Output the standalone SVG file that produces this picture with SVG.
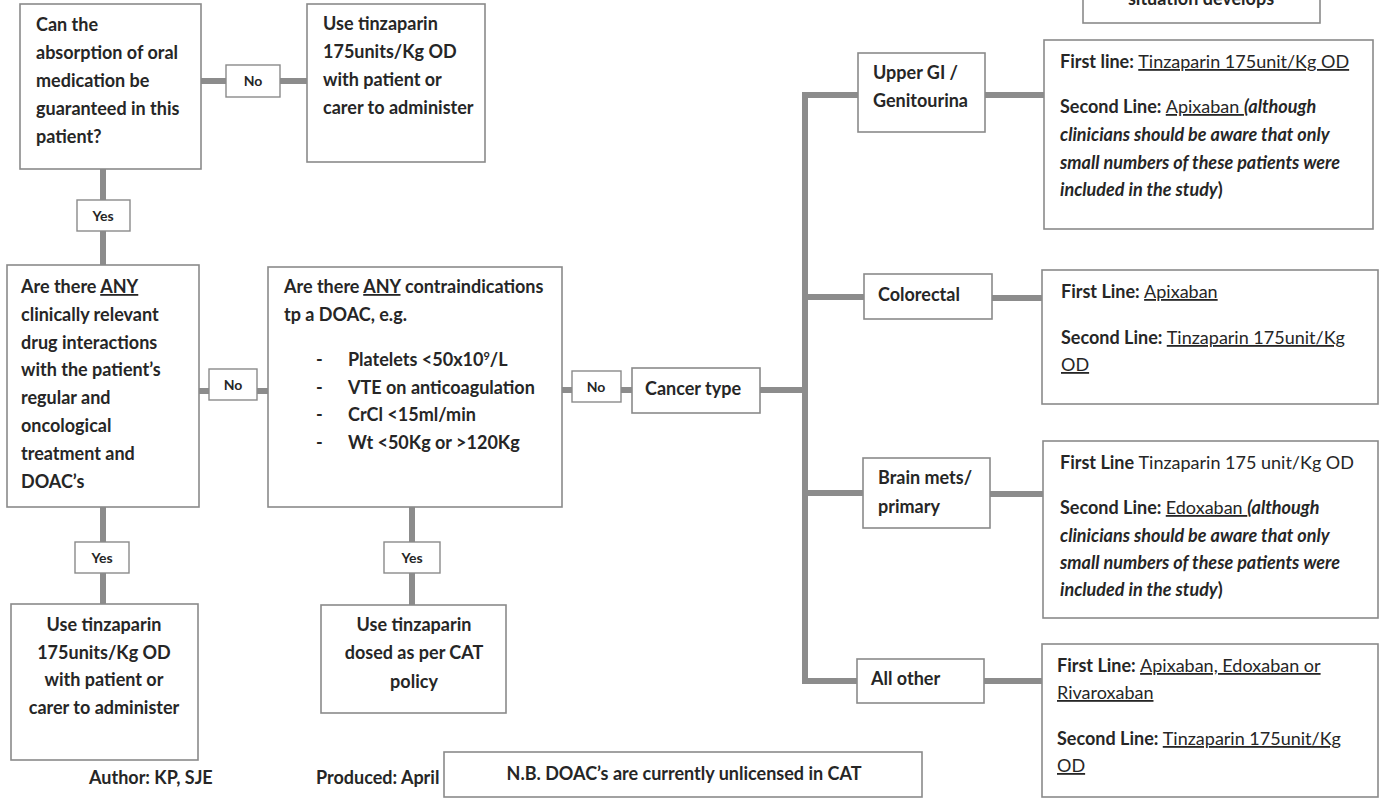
<svg xmlns="http://www.w3.org/2000/svg" width="1382" height="802" viewBox="0 0 1382 802">
<style>
.box{fill:#fff;stroke:#8a8a8a;stroke-width:1.6}
.lbl{fill:#fff;stroke:#8a8a8a;stroke-width:1.4}
.con{stroke:#8c8c8c;stroke-width:6;fill:none;stroke-linecap:butt}
.t{font-family:Lato,"Open Sans",sans-serif;font-size:18px;font-weight:700;fill:#262626}
.s{font-family:Lato,"Open Sans",sans-serif;font-size:14px;font-weight:700;fill:#262626}
.c{text-anchor:middle}
.u{text-decoration:underline;font-weight:400}
.ub{text-decoration:underline}
.i{font-style:italic}
</style>
<rect width="1382" height="802" fill="#fff"/>
<g id="connectors">
<path class="con" d="M201 81H226M280 81H307"/>
<path class="con" d="M103 169V200M103 231V265"/>
<path class="con" d="M199 391H209M257 391H268"/>
<path class="con" d="M103 507V542M103 573V604"/>
<path class="con" d="M412 507V542M412 573V605"/>
<path class="con" d="M562 390H572M621 390H632"/>
<path class="con" d="M760 390H805"/>
<path class="con" d="M805 92V684"/>
<path class="con" d="M802 95H858M802 297H864M802 493H863M802 681H857"/>
<path class="con" d="M985 95H1044M992 298H1042M990 494H1043M984 681H1042"/>
</g>
<g id="note-top">
<rect class="box" x="1083" y="-10" width="237" height="33"/>
<text class="t c" x="1201" y="5">situation develops</text>
</g>
<g id="q-absorption">
<rect class="box" x="20" y="4" width="181" height="165"/>
<text class="t" x="36" y="31">Can the</text>
<text class="t" x="36" y="59">absorption of oral</text>
<text class="t" x="36" y="87">medication be</text>
<text class="t" x="36" y="115">guaranteed in this</text>
<text class="t" x="36" y="143">patient?</text>
</g>
<g id="lbl-no1">
<rect class="lbl" x="226" y="65" width="54" height="32"/>
<text class="s c" x="253" y="86">No</text>
</g>
<g id="use-tinz-top">
<rect class="box" x="307" y="4" width="178" height="158"/>
<text class="t" x="323" y="30">Use tinzaparin</text>
<text class="t" x="323" y="58">175units/Kg OD</text>
<text class="t" x="323" y="86">with patient or</text>
<text class="t" x="323" y="114">carer to administer</text>
</g>
<g id="lbl-yes1">
<rect class="lbl" x="77" y="200" width="53" height="31"/>
<text class="s c" x="103" y="221">Yes</text>
</g>
<g id="q-interactions">
<rect class="box" x="7" y="265" width="192" height="242"/>
<text class="t" x="21" y="293">Are there <tspan class="ub">ANY</tspan></text>
<text class="t" x="21" y="321">clinically relevant</text>
<text class="t" x="21" y="349">drug interactions</text>
<text class="t" x="21" y="376">with the patient’s</text>
<text class="t" x="21" y="404">regular and</text>
<text class="t" x="21" y="432">oncological</text>
<text class="t" x="21" y="460">treatment and</text>
<text class="t" x="21" y="488">DOAC’s</text>
</g>
<g id="lbl-no2">
<rect class="lbl" x="209" y="369" width="48" height="31"/>
<text class="s c" x="233" y="390">No</text>
</g>
<g id="q-contra">
<rect class="box" x="268" y="267" width="294" height="240"/>
<text class="t" x="284" y="293">Are there <tspan class="ub">ANY</tspan> contraindications</text>
<text class="t" x="284" y="321">tp a DOAC, e.g.</text>
<text class="t" x="316" y="366">-</text>
<text class="t" x="348" y="366">Platelets &lt;50x10<tspan font-size="11" baseline-shift="super">9</tspan>/L</text>
<text class="t" x="316" y="394">-</text>
<text class="t" x="348" y="394">VTE on anticoagulation</text>
<text class="t" x="316" y="421">-</text>
<text class="t" x="348" y="421">CrCl &lt;15ml/min</text>
<text class="t" x="316" y="449">-</text>
<text class="t" x="348" y="449">Wt &lt;50Kg or &gt;120Kg</text>
</g>
<g id="lbl-yes3">
<rect class="lbl" x="75" y="542" width="54" height="31"/>
<text class="s c" x="102" y="563">Yes</text>
</g>
<g id="use-tinz-bottom">
<rect class="box" x="11" y="604" width="187" height="156"/>
<text class="t c" x="104" y="631">Use tinzaparin</text>
<text class="t c" x="104" y="659">175units/Kg OD</text>
<text class="t c" x="104" y="686">with patient or</text>
<text class="t c" x="104" y="714">carer to administer</text>
</g>
<g id="lbl-yes4">
<rect class="lbl" x="384" y="542" width="56" height="31"/>
<text class="s c" x="412" y="563">Yes</text>
</g>
<g id="use-tinz-cat">
<rect class="box" x="321" y="605" width="185" height="108"/>
<text class="t c" x="414" y="631">Use tinzaparin</text>
<text class="t c" x="414" y="659">dosed as per CAT</text>
<text class="t c" x="414" y="688">policy</text>
</g>
<g id="lbl-no3">
<rect class="lbl" x="572" y="371" width="49" height="31"/>
<text class="s c" x="596" y="392">No</text>
</g>
<g id="cancer-type">
<rect class="box" x="632" y="368" width="128" height="45"/>
<text class="t" x="645" y="395">Cancer type</text>
</g>
<g id="upper-gi">
<rect class="box" x="858" y="53" width="127" height="79"/>
<text class="t" x="873" y="79">Upper GI /</text>
<text class="t" x="873" y="107">Genitourina</text>
</g>
<g id="colorectal">
<rect class="box" x="864" y="274" width="128" height="45"/>
<text class="t" x="878" y="301">Colorectal</text>
</g>
<g id="brain">
<rect class="box" x="863" y="458" width="127" height="70"/>
<text class="t" x="878" y="484">Brain mets/</text>
<text class="t" x="878" y="513">primary</text>
</g>
<g id="all-other">
<rect class="box" x="857" y="659" width="127" height="44"/>
<text class="t" x="871" y="685">All other</text>
</g>
<g id="tx-upper-gi">
<rect class="box" x="1044" y="40" width="329" height="189"/>
<text class="t" x="1060" y="68">First line: <tspan class="u">Tinzaparin 175unit/Kg OD</tspan></text>
<text class="t" x="1060" y="113">Second Line: <tspan class="u">Apixaban </tspan><tspan class="i">(although</tspan></text>
<text class="t i" x="1060" y="141">clinicians should be aware that only</text>
<text class="t i" x="1060" y="169">small numbers of these patients were</text>
<text class="t i" x="1060" y="196">included in the study<tspan font-style="normal">)</tspan></text>
</g>
<g id="tx-colorectal">
<rect class="box" x="1042" y="270" width="336" height="134"/>
<text class="t" x="1061" y="298">First Line: <tspan class="u">Apixaban</tspan></text>
<text class="t" x="1061" y="344">Second Line:  <tspan class="u">Tinzaparin 175unit/Kg</tspan></text>
<text class="t" x="1061" y="371"><tspan class="u">OD</tspan></text>
</g>
<g id="tx-brain">
<rect class="box" x="1043" y="441" width="335" height="177"/>
<text class="t" x="1060" y="469">First Line <tspan font-weight="400">Tinzaparin 175 unit/Kg OD</tspan></text>
<text class="t" x="1060" y="514">Second Line: <tspan class="u">Edoxaban </tspan><tspan class="i">(although</tspan></text>
<text class="t i" x="1060" y="542">clinicians should be aware that only</text>
<text class="t i" x="1060" y="569">small numbers of these patients were</text>
<text class="t i" x="1060" y="596">included in the study<tspan font-style="normal">)</tspan></text>
</g>
<g id="tx-all-other">
<rect class="box" x="1042" y="644" width="336" height="153"/>
<text class="t" x="1057" y="672">First Line:  <tspan class="u">Apixaban, Edoxaban or</tspan></text>
<text class="t" x="1057" y="699"><tspan class="u">Rivaroxaban</tspan></text>
<text class="t" x="1057" y="745">Second Line:  <tspan class="u">Tinzaparin 175unit/Kg</tspan></text>
<text class="t" x="1057" y="772"><tspan class="u">OD</tspan></text>
</g>
<g id="footer">
<text class="t" x="89" y="784">Author: KP, SJE</text>
<text class="t" x="316" y="784">Produced: April</text>
</g>
<g id="nb-note">
<rect class="box" x="444" y="752" width="478" height="45"/>
<text class="t c" x="684" y="780">N.B. DOAC’s are currently unlicensed in CAT</text>
</g>
</svg>
